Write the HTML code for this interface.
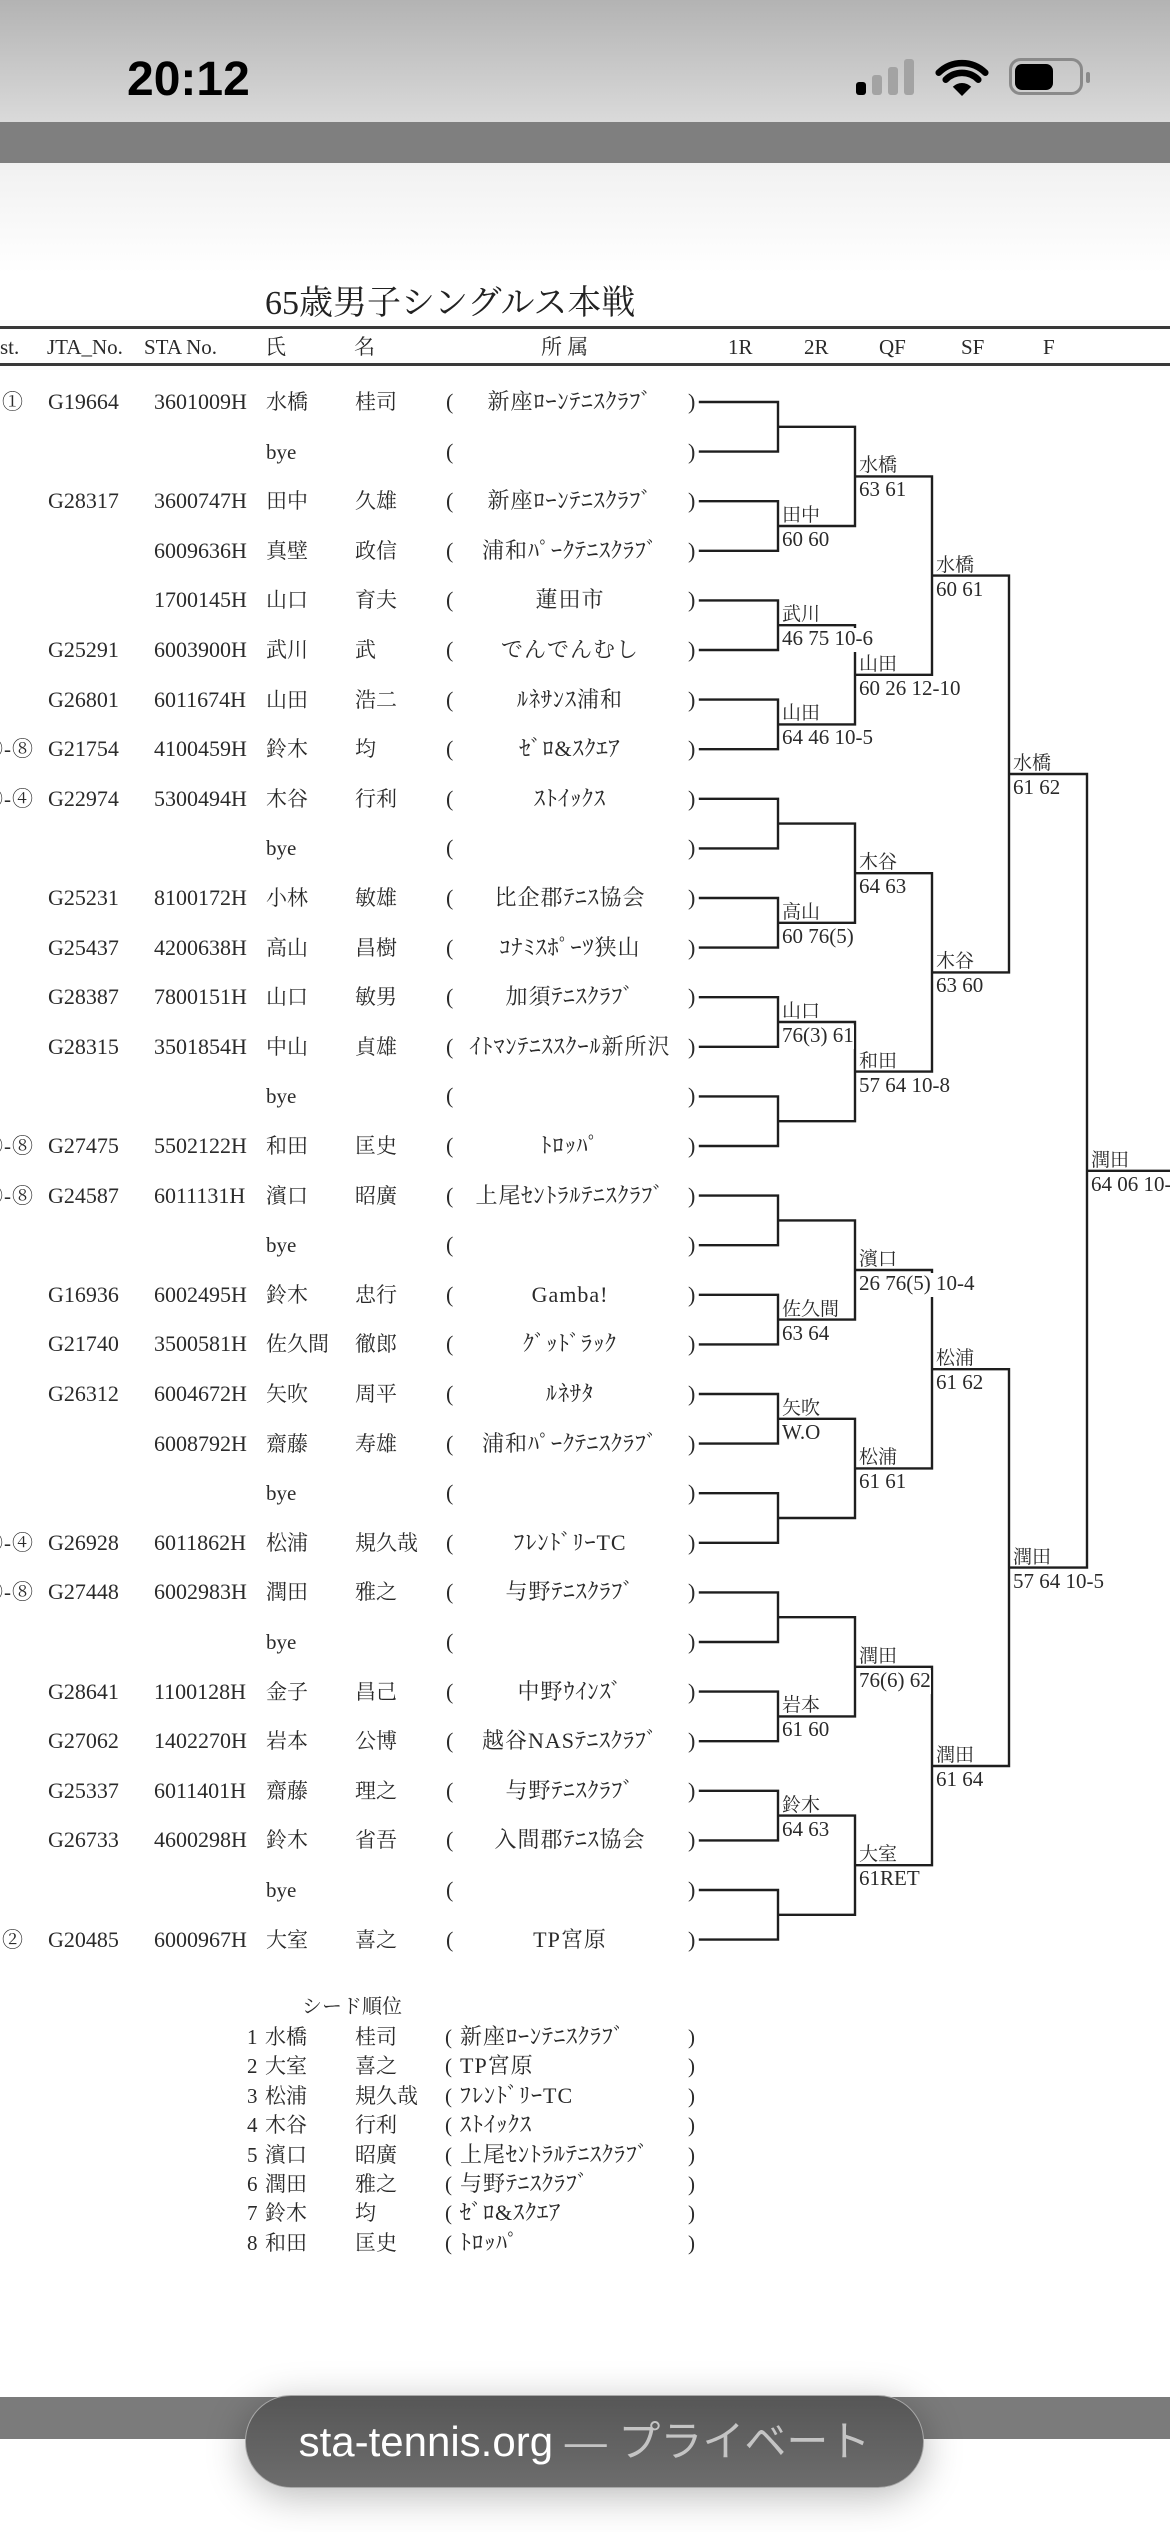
<!DOCTYPE html>
<html>
<head>
<meta charset="utf-8">
<style>
html,body{margin:0;padding:0;}
body{width:1170px;height:2532px;overflow:hidden;background:#fff;position:relative;font-family:"Liberation Serif","Noto Serif CJK SC",serif;color:#2a2a2a;}
.abs{position:absolute;}
#status{left:0;top:0;width:1170px;height:122px;background:linear-gradient(#b3b3b3,#dadada);}
#band{left:0;top:122px;width:1170px;height:41px;background:#7f7f7f;}
#fade{left:0;top:163px;width:1170px;height:110px;background:linear-gradient(#f1f1f1,#ffffff);}
#time{left:127px;top:52px;font-family:"Liberation Sans",sans-serif;font-weight:bold;font-size:48px;line-height:56px;color:#000;}
.bar{position:absolute;width:10px;border-radius:3px;background:#a3a3a3;}
#title{left:265px;top:283px;font-size:34px;line-height:42px;white-space:nowrap;color:#222;}
.rule{position:absolute;left:0;width:1170px;height:3px;background:#3a3a3a;}
.h{position:absolute;top:332px;line-height:30px;font-size:21px;white-space:nowrap;color:#2a2a2a;}
.r{position:absolute;left:0;width:700px;height:30px;line-height:30px;font-size:22px;}
.r span{position:absolute;top:0;white-space:nowrap;}
.st{right:666px;font-size:21px;letter-spacing:1px;}
.st1{left:2px;font-size:21px;}
.j{left:48px;}
.s{left:154px;}
.n{left:266px;font-size:21px;}
.g{left:355px;font-size:21px;}
.op{left:446px;}
.c{left:450px;width:240px;text-align:center;letter-spacing:1px;}
.cp{left:688px;}
.nm{position:absolute;font-family:"Noto Serif CJK SC",serif;font-size:19px;line-height:19px;white-space:nowrap;color:#2a2a2a;}
.sc{position:absolute;font-size:21px;line-height:21px;padding-bottom:3px;background:#fff;white-space:nowrap;color:#2a2a2a;}
.sd{position:absolute;left:0;width:700px;height:30px;line-height:30px;font-size:21px;}
.sd span{position:absolute;top:0;white-space:nowrap;}
.sd .k{left:247px;}
.sd .a{left:265px;}
.sd .b{left:355px;}
.sd .o{left:445px;}
.sd .cl{left:460px;letter-spacing:1px;font-size:22px;}
.sd .e{left:688px;}
#pillband{left:0;top:2397px;width:1170px;height:42px;background:#7b7b7b;}
#pill{left:245px;top:2395px;width:677px;height:91px;border-radius:46px;background:linear-gradient(#565656,#6d6d6d);border:1.5px solid #a8a8a8;box-shadow:0 8px 40px rgba(0,0,0,0.28);text-align:center;line-height:91px;font-family:"Liberation Sans","Noto Sans CJK JP",sans-serif;font-size:42px;color:#fff;white-space:nowrap;}
#pill .gr{color:#c4c4c4;}
</style>
</head>
<body>
<div id="status" class="abs"></div>
<div id="band" class="abs"></div>
<div id="fade" class="abs"></div>
<div id="time" class="abs">20:12</div>
<div class="bar" style="left:856px;top:82px;height:13px;background:#000;"></div>
<div class="bar" style="left:872px;top:75px;height:20px;"></div>
<div class="bar" style="left:888px;top:67px;height:28px;"></div>
<div class="bar" style="left:904px;top:59px;height:36px;"></div>
<svg class="abs" style="left:0;top:0" width="1170" height="122">
<path d="M962 96 L952.8 86.8 A13 13 0 0 1 971.2 86.8 Z" fill="#000"/>
<path d="M945.7 79.7 A23 23 0 0 1 978.3 79.7" fill="none" stroke="#000" stroke-width="6.5" stroke-linecap="round"/>
<path d="M938.7 72.7 A33 33 0 0 1 985.3 72.7" fill="none" stroke="#000" stroke-width="6.5" stroke-linecap="round"/>
<rect x="1010.5" y="59.5" width="71" height="34" rx="10" fill="none" stroke="#8a8a8a" stroke-width="3"/>
<rect x="1015" y="64" width="38" height="26" rx="7" fill="#000"/>
<rect x="1086" y="72" width="4" height="11" rx="2" fill="#8a8a8a"/>
</svg>

<div id="title" class="abs">65歳男子シングルス本戦</div>
<div class="rule" style="top:326px;"></div>
<div class="h" style="left:0px;">st.</div>
<div class="h" style="left:47px;">JTA_No.</div>
<div class="h" style="left:144px;">STA No.</div>
<div class="h" style="left:265px;">氏</div>
<div class="h" style="left:354px;">名</div>
<div class="h" style="left:541px;">所 属</div>
<div class="h" style="left:728px;">1R</div>
<div class="h" style="left:804px;">2R</div>
<div class="h" style="left:879px;">QF</div>
<div class="h" style="left:961px;">SF</div>
<div class="h" style="left:1043px;">F</div>
<div class="rule" style="top:363px;"></div>

<div class="r" style="top:387px"><span class="st1">①</span><span class="j">G19664</span><span class="s">3601009H</span><span class="n">水橋</span><span class="g">桂司</span><span class="op">(</span><span class="c">新座ﾛｰﾝﾃﾆｽｸﾗﾌﾞ</span><span class="cp">)</span></div>
<div class="r" style="top:436.6px"><span class="n">bye</span><span class="op">(</span><span class="cp">)</span></div>
<div class="r" style="top:486.2px"><span class="j">G28317</span><span class="s">3600747H</span><span class="n">田中</span><span class="g">久雄</span><span class="op">(</span><span class="c">新座ﾛｰﾝﾃﾆｽｸﾗﾌﾞ</span><span class="cp">)</span></div>
<div class="r" style="top:535.8px"><span class="s">6009636H</span><span class="n">真壁</span><span class="g">政信</span><span class="op">(</span><span class="c">浦和ﾊﾟｰｸﾃﾆｽｸﾗﾌﾞ</span><span class="cp">)</span></div>
<div class="r" style="top:585.4px"><span class="s">1700145H</span><span class="n">山口</span><span class="g">育夫</span><span class="op">(</span><span class="c">蓮田市</span><span class="cp">)</span></div>
<div class="r" style="top:635px"><span class="j">G25291</span><span class="s">6003900H</span><span class="n">武川</span><span class="g">武</span><span class="op">(</span><span class="c">でんでんむし</span><span class="cp">)</span></div>
<div class="r" style="top:684.6px"><span class="j">G26801</span><span class="s">6011674H</span><span class="n">山田</span><span class="g">浩二</span><span class="op">(</span><span class="c">ﾙﾈｻﾝｽ浦和</span><span class="cp">)</span></div>
<div class="r" style="top:734.2px"><span class="st">⑤-⑧</span><span class="j">G21754</span><span class="s">4100459H</span><span class="n">鈴木</span><span class="g">均</span><span class="op">(</span><span class="c">ｾﾞﾛ&amp;ｽｸｴｱ</span><span class="cp">)</span></div>
<div class="r" style="top:783.8px"><span class="st">③-④</span><span class="j">G22974</span><span class="s">5300494H</span><span class="n">木谷</span><span class="g">行利</span><span class="op">(</span><span class="c">ｽﾄｲｯｸｽ</span><span class="cp">)</span></div>
<div class="r" style="top:833.4px"><span class="n">bye</span><span class="op">(</span><span class="cp">)</span></div>
<div class="r" style="top:883px"><span class="j">G25231</span><span class="s">8100172H</span><span class="n">小林</span><span class="g">敏雄</span><span class="op">(</span><span class="c">比企郡ﾃﾆｽ協会</span><span class="cp">)</span></div>
<div class="r" style="top:932.6px"><span class="j">G25437</span><span class="s">4200638H</span><span class="n">高山</span><span class="g">昌樹</span><span class="op">(</span><span class="c">ｺﾅﾐｽﾎﾟｰﾂ狭山</span><span class="cp">)</span></div>
<div class="r" style="top:982.2px"><span class="j">G28387</span><span class="s">7800151H</span><span class="n">山口</span><span class="g">敏男</span><span class="op">(</span><span class="c">加須ﾃﾆｽｸﾗﾌﾞ</span><span class="cp">)</span></div>
<div class="r" style="top:1031.8px"><span class="j">G28315</span><span class="s">3501854H</span><span class="n">中山</span><span class="g">貞雄</span><span class="op">(</span><span class="c">ｲﾄﾏﾝﾃﾆｽｽｸｰﾙ新所沢</span><span class="cp">)</span></div>
<div class="r" style="top:1081.4px"><span class="n">bye</span><span class="op">(</span><span class="cp">)</span></div>
<div class="r" style="top:1131px"><span class="st">⑤-⑧</span><span class="j">G27475</span><span class="s">5502122H</span><span class="n">和田</span><span class="g">匡史</span><span class="op">(</span><span class="c">ﾄﾛｯﾊﾟ</span><span class="cp">)</span></div>
<div class="r" style="top:1180.6px"><span class="st">⑤-⑧</span><span class="j">G24587</span><span class="s">6011131H</span><span class="n">濱口</span><span class="g">昭廣</span><span class="op">(</span><span class="c">上尾ｾﾝﾄﾗﾙﾃﾆｽｸﾗﾌﾞ</span><span class="cp">)</span></div>
<div class="r" style="top:1230.2px"><span class="n">bye</span><span class="op">(</span><span class="cp">)</span></div>
<div class="r" style="top:1279.8px"><span class="j">G16936</span><span class="s">6002495H</span><span class="n">鈴木</span><span class="g">忠行</span><span class="op">(</span><span class="c">Gamba!</span><span class="cp">)</span></div>
<div class="r" style="top:1329.4px"><span class="j">G21740</span><span class="s">3500581H</span><span class="n">佐久間</span><span class="g">徹郎</span><span class="op">(</span><span class="c">ｸﾞｯﾄﾞﾗｯｸ</span><span class="cp">)</span></div>
<div class="r" style="top:1379px"><span class="j">G26312</span><span class="s">6004672H</span><span class="n">矢吹</span><span class="g">周平</span><span class="op">(</span><span class="c">ﾙﾈｻﾀ</span><span class="cp">)</span></div>
<div class="r" style="top:1428.6px"><span class="s">6008792H</span><span class="n">齋藤</span><span class="g">寿雄</span><span class="op">(</span><span class="c">浦和ﾊﾟｰｸﾃﾆｽｸﾗﾌﾞ</span><span class="cp">)</span></div>
<div class="r" style="top:1478.2px"><span class="n">bye</span><span class="op">(</span><span class="cp">)</span></div>
<div class="r" style="top:1527.8px"><span class="st">③-④</span><span class="j">G26928</span><span class="s">6011862H</span><span class="n">松浦</span><span class="g">規久哉</span><span class="op">(</span><span class="c">ﾌﾚﾝﾄﾞﾘｰTC</span><span class="cp">)</span></div>
<div class="r" style="top:1577.4px"><span class="st">⑤-⑧</span><span class="j">G27448</span><span class="s">6002983H</span><span class="n">潤田</span><span class="g">雅之</span><span class="op">(</span><span class="c">与野ﾃﾆｽｸﾗﾌﾞ</span><span class="cp">)</span></div>
<div class="r" style="top:1627px"><span class="n">bye</span><span class="op">(</span><span class="cp">)</span></div>
<div class="r" style="top:1676.6px"><span class="j">G28641</span><span class="s">1100128H</span><span class="n">金子</span><span class="g">昌己</span><span class="op">(</span><span class="c">中野ｳｲﾝｽﾞ</span><span class="cp">)</span></div>
<div class="r" style="top:1726.2px"><span class="j">G27062</span><span class="s">1402270H</span><span class="n">岩本</span><span class="g">公博</span><span class="op">(</span><span class="c">越谷NASﾃﾆｽｸﾗﾌﾞ</span><span class="cp">)</span></div>
<div class="r" style="top:1775.8px"><span class="j">G25337</span><span class="s">6011401H</span><span class="n">齋藤</span><span class="g">理之</span><span class="op">(</span><span class="c">与野ﾃﾆｽｸﾗﾌﾞ</span><span class="cp">)</span></div>
<div class="r" style="top:1825.4px"><span class="j">G26733</span><span class="s">4600298H</span><span class="n">鈴木</span><span class="g">省吾</span><span class="op">(</span><span class="c">入間郡ﾃﾆｽ協会</span><span class="cp">)</span></div>
<div class="r" style="top:1875px"><span class="n">bye</span><span class="op">(</span><span class="cp">)</span></div>
<div class="r" style="top:1924.6px"><span class="st1">②</span><span class="j">G20485</span><span class="s">6000967H</span><span class="n">大室</span><span class="g">喜之</span><span class="op">(</span><span class="c">TP宮原</span><span class="cp">)</span></div>

<svg class="abs" style="left:0;top:0" width="1170" height="2532">
<path fill="none" stroke="#1e1e1e" stroke-width="2.4" stroke-linecap="square" stroke-linejoin="miter" d="
M700 402H778V451.6H700M778 426.8H855
M700 501.2H778V550.8H700M778 526H855
M700 600.4H778V650H700M778 625.2H855
M700 699.6H778V749.2H700M778 724.4H855
M700 798.8H778V848.4H700M778 823.6H855
M700 898H778V947.6H700M778 922.8H855
M700 997.2H778V1046.8H700M778 1022H855
M700 1096.4H778V1146H700M778 1121.2H855
M700 1195.6H778V1245.2H700M778 1220.4H855
M700 1294.8H778V1344.4H700M778 1319.6H855
M700 1394H778V1443.6H700M778 1418.8H855
M700 1493.2H778V1542.8H700M778 1518H855
M700 1592.4H778V1642H700M778 1617.2H855
M700 1691.6H778V1741.2H700M778 1716.4H855
M700 1790.8H778V1840.4H700M778 1815.6H855
M700 1890H778V1939.6H700M778 1914.8H855
M855 426.8V526M855 476.4H932
M855 625.2V724.4M855 674.8H932
M855 823.6V922.8M855 873.2H932
M855 1022V1121.2M855 1071.6H932
M855 1220.4V1319.6M855 1270H932
M855 1418.8V1518M855 1468.4H932
M855 1617.2V1716.4M855 1666.8H932
M855 1815.6V1914.8M855 1865.2H932
M932 476.4V674.8M932 575.6H1009
M932 873.2V1071.6M932 972.4H1009
M932 1270V1468.4M932 1369.2H1009
M932 1666.8V1865.2M932 1766H1009
M1009 575.6V972.4M1009 774H1087
M1009 1369.2V1766M1009 1567.6H1087
M1087 774V1567.6M1087 1170.8H1172"/>
</svg>

<!-- R1 labels -->
<div class="nm" style="left:782px;top:504px">田中</div><div class="sc" style="left:782px;top:529px">60 60</div>
<div class="nm" style="left:782px;top:603.2px">武川</div><div class="sc" style="left:782px;top:628.2px">46 75 10-6</div>
<div class="nm" style="left:782px;top:702.4px">山田</div><div class="sc" style="left:782px;top:727.4px">64 46 10-5</div>
<div class="nm" style="left:782px;top:900.8px">高山</div><div class="sc" style="left:782px;top:925.8px">60 76(5)</div>
<div class="nm" style="left:782px;top:1000px">山口</div><div class="sc" style="left:782px;top:1025px">76(3) 61</div>
<div class="nm" style="left:782px;top:1297.6px">佐久間</div><div class="sc" style="left:782px;top:1322.6px">63 64</div>
<div class="nm" style="left:782px;top:1396.8px">矢吹</div><div class="sc" style="left:782px;top:1421.8px">W.O</div>
<div class="nm" style="left:782px;top:1694.4px">岩本</div><div class="sc" style="left:782px;top:1719.4px">61 60</div>
<div class="nm" style="left:782px;top:1793.6px">鈴木</div><div class="sc" style="left:782px;top:1818.6px">64 63</div>
<!-- R2 labels -->
<div class="nm" style="left:859px;top:454.4px">水橋</div><div class="sc" style="left:859px;top:479.4px">63 61</div>
<div class="nm" style="left:859px;top:652.8px">山田</div><div class="sc" style="left:859px;top:677.8px">60 26 12-10</div>
<div class="nm" style="left:859px;top:851.2px">木谷</div><div class="sc" style="left:859px;top:876.2px">64 63</div>
<div class="nm" style="left:859px;top:1049.6px">和田</div><div class="sc" style="left:859px;top:1074.6px">57 64 10-8</div>
<div class="nm" style="left:859px;top:1248px">濱口</div><div class="sc" style="left:859px;top:1273px">26 76(5) 10-4</div>
<div class="nm" style="left:859px;top:1446.4px">松浦</div><div class="sc" style="left:859px;top:1471.4px">61 61</div>
<div class="nm" style="left:859px;top:1644.8px">潤田</div><div class="sc" style="left:859px;top:1669.8px">76(6) 62</div>
<div class="nm" style="left:859px;top:1843.2px">大室</div><div class="sc" style="left:859px;top:1868.2px">61RET</div>
<!-- QF labels -->
<div class="nm" style="left:936px;top:553.6px">水橋</div><div class="sc" style="left:936px;top:578.6px">60 61</div>
<div class="nm" style="left:936px;top:950.4px">木谷</div><div class="sc" style="left:936px;top:975.4px">63 60</div>
<div class="nm" style="left:936px;top:1347.2px">松浦</div><div class="sc" style="left:936px;top:1372.2px">61 62</div>
<div class="nm" style="left:936px;top:1744px">潤田</div><div class="sc" style="left:936px;top:1769px">61 64</div>
<!-- SF labels -->
<div class="nm" style="left:1013px;top:752px">水橋</div><div class="sc" style="left:1013px;top:777px">61 62</div>
<div class="nm" style="left:1013px;top:1545.6px">潤田</div><div class="sc" style="left:1013px;top:1570.6px">57 64 10-5</div>
<!-- F label -->
<div class="nm" style="left:1091px;top:1148.8px">潤田</div><div class="sc" style="left:1091px;top:1173.8px">64 06 10-5</div>

<!-- seed list -->
<div class="abs" style="left:302px;top:1990px;font-size:20px;line-height:30px;font-family:'Noto Serif CJK SC',serif;">シード順位</div>
<div class="sd" style="top:2022px"><span class="k">1</span><span class="a">水橋</span><span class="b">桂司</span><span class="o">(</span><span class="cl">新座ﾛｰﾝﾃﾆｽｸﾗﾌﾞ</span><span class="e">)</span></div>
<div class="sd" style="top:2051.4px"><span class="k">2</span><span class="a">大室</span><span class="b">喜之</span><span class="o">(</span><span class="cl">TP宮原</span><span class="e">)</span></div>
<div class="sd" style="top:2080.8px"><span class="k">3</span><span class="a">松浦</span><span class="b">規久哉</span><span class="o">(</span><span class="cl">ﾌﾚﾝﾄﾞﾘｰTC</span><span class="e">)</span></div>
<div class="sd" style="top:2110.2px"><span class="k">4</span><span class="a">木谷</span><span class="b">行利</span><span class="o">(</span><span class="cl">ｽﾄｲｯｸｽ</span><span class="e">)</span></div>
<div class="sd" style="top:2139.6px"><span class="k">5</span><span class="a">濱口</span><span class="b">昭廣</span><span class="o">(</span><span class="cl">上尾ｾﾝﾄﾗﾙﾃﾆｽｸﾗﾌﾞ</span><span class="e">)</span></div>
<div class="sd" style="top:2169px"><span class="k">6</span><span class="a">潤田</span><span class="b">雅之</span><span class="o">(</span><span class="cl">与野ﾃﾆｽｸﾗﾌﾞ</span><span class="e">)</span></div>
<div class="sd" style="top:2198.4px"><span class="k">7</span><span class="a">鈴木</span><span class="b">均</span><span class="o">(</span><span class="cl">ｾﾞﾛ&amp;ｽｸｴｱ</span><span class="e">)</span></div>
<div class="sd" style="top:2227.8px"><span class="k">8</span><span class="a">和田</span><span class="b">匡史</span><span class="o">(</span><span class="cl">ﾄﾛｯﾊﾟ</span><span class="e">)</span></div>

<!-- bottom browser bar -->
<div id="pillband" class="abs"></div>
<div id="pill" class="abs">sta-tennis.org <span class="gr">— プライベート</span></div>
</body>
</html>
